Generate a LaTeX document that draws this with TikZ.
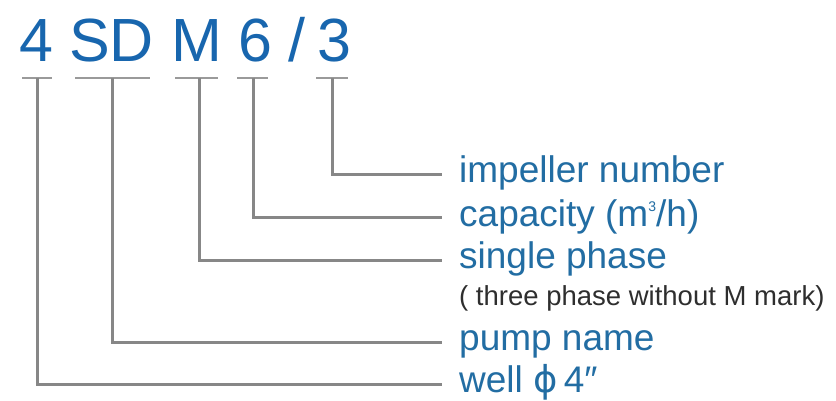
\documentclass[tikz,border=0pt]{standalone}
\usepackage{fontspec}
\setmainfont{Liberation Sans}
\newfontfamily\dejavu{DejaVu Sans}
\definecolor{titleblue}{HTML}{1866AE}
\definecolor{labblue}{HTML}{226DA3}
\definecolor{linegray}{HTML}{878787}
\definecolor{bargray}{HTML}{9A9A9A}
\definecolor{notegray}{HTML}{2E2E2E}
\tikzset{
  titlechar/.style={inner sep=0pt, anchor=base, text=titleblue, font=\fontsize{61}{61}\selectfont},
  labeltext/.style={inner sep=0pt, anchor=base west, text=labblue, font=\fontsize{37}{40}\selectfont},
  notetext/.style={inner sep=0pt, anchor=base west, text=notegray, font=\fontsize{27.5}{30}\selectfont},
  bar/.style={draw=bargray, line width=2pt},
  leader/.style={draw=linegray, line width=3pt},
}
\begin{document}
\begin{tikzpicture}[x=1pt,y=-1pt]
\useasboundingbox[fill=white] (0,0) rectangle (836,401);
% title characters
\node[titlechar] (t4) at (36,62) {4};
\node[titlechar] (tS) at (90,62) {S};
\node[titlechar] (tD) at (132,62) {D};
\node[titlechar] (tM) at (197,62) {M};
\node[titlechar] (t6) at (255,62) {6};
\node[titlechar] (tsl) at (297,62) {/};
\node[titlechar] (t3) at (334,62) {3};
% bars under the characters
\draw[bar] (22,78) -- (52,78);
\draw[bar] (75,78) -- (150,78);
\draw[bar] (175,78) -- (218,78);
\draw[bar] (237,78) -- (268,78);
\draw[bar] (316,78) -- (348,78);
\coordinate (s4) at (37,78);
\coordinate (sSD) at (112,78);
\coordinate (sM) at (199,78);
\coordinate (s6) at (253,78);
\coordinate (s3) at (332,78);
% line ends
\coordinate (e1) at (442,175);
\coordinate (e2) at (442,218);
\coordinate (e3) at (442,260);
\coordinate (e4) at (442,342);
\coordinate (e5) at (442,384);
% labels
\node[labeltext] (l1) at (459,183) {impeller number};
\node[labeltext] (l2) at (459,226) {capacity (m{\fontsize{14}{14}\selectfont\raisebox{15pt}{3}}/h)};
\node[labeltext] (l3) at (459,268) {single phase};
\node[notetext] (l3b) at (459,305) {( three phase without M mark)};
\node[labeltext] (l4) at (459,350) {pump name};
\node[labeltext] (l5) at (459,392) {well {\dejavu ϕ}\,4″};
% leaders
\draw[leader] (s3) |- (e1);
\draw[leader] (s6) |- (e2);
\draw[leader] (sM) |- (e3);
\draw[leader] (sSD) |- (e4);
\draw[leader] (s4) |- (e5);
\end{tikzpicture}
\end{document}
